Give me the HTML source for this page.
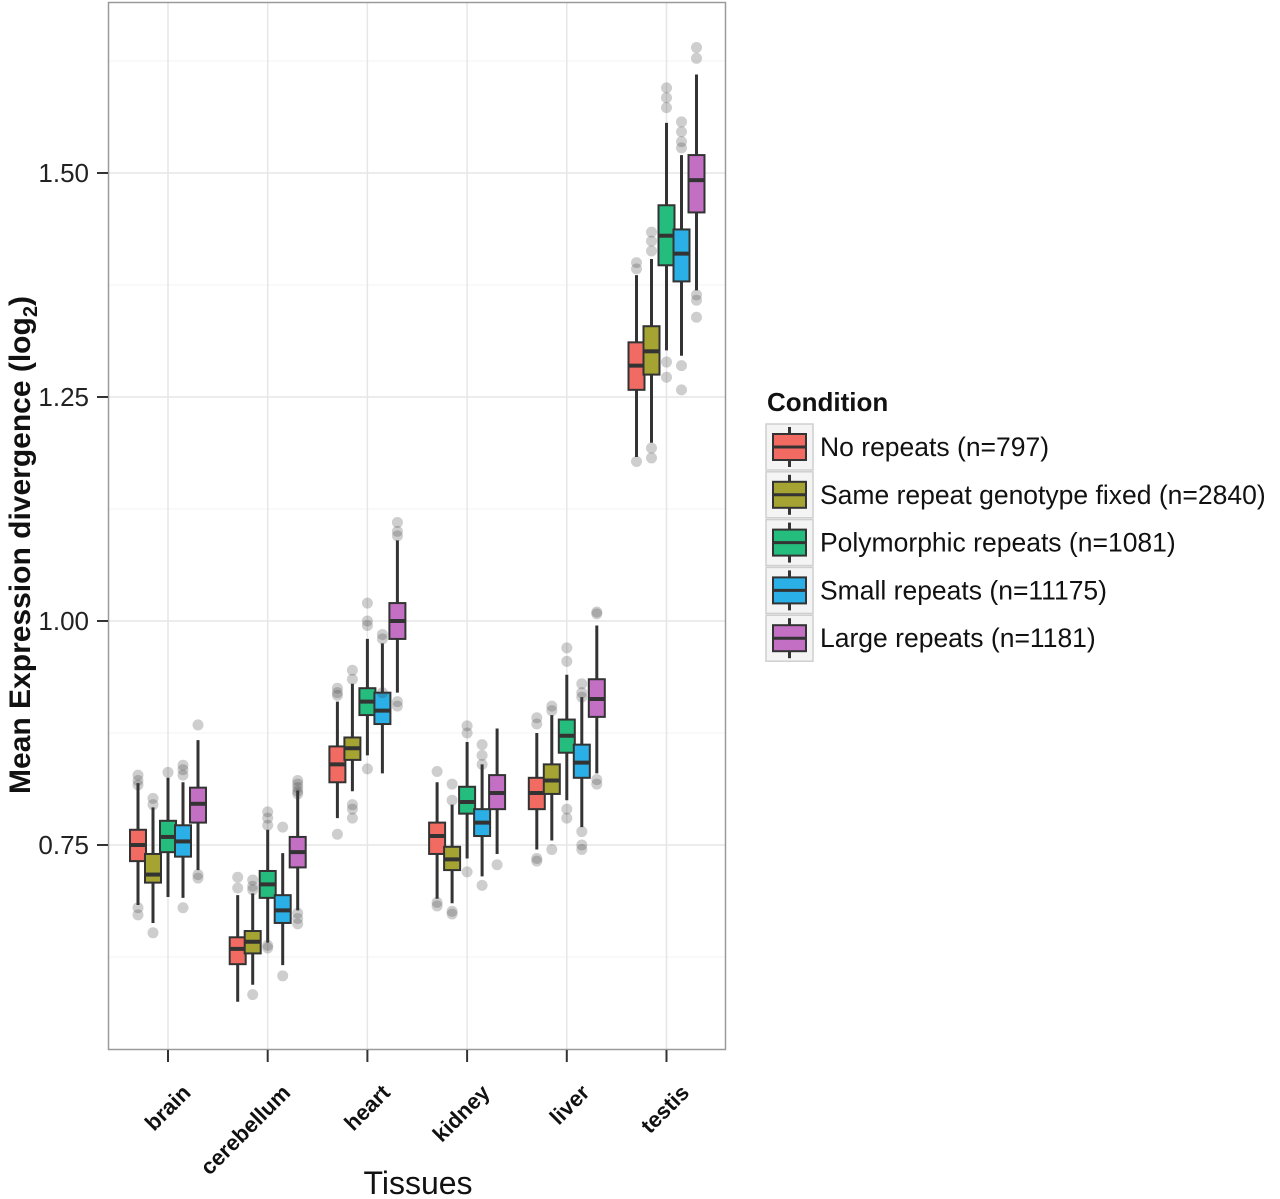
<!DOCTYPE html>
<html><head><meta charset="utf-8"><style>
html,body{margin:0;padding:0;background:#fff;}
svg{display:block;font-family:"Liberation Sans",Arial,sans-serif;}
</style></head><body>
<svg id="chart" width="1280" height="1199" viewBox="0 0 1280 1199">
<rect x="0" y="0" width="1280" height="1199" fill="#fff"/>
<g id="grid"></g>
<g id="marks"></g>
<rect x="108.5" y="2.5" width="617" height="1047" fill="none" stroke="#9a9a9a" stroke-width="1.5"/>
<g id="axes"></g>
<text x="30" y="545" transform="rotate(-90 30 545)" text-anchor="middle" font-size="30" font-weight="bold" fill="#111">Mean Expression divergence (log<tspan font-size="20" dy="7">2</tspan><tspan dy="-7">)</tspan></text>
<text x="418" y="1194" text-anchor="middle" font-size="32" fill="#111">Tissues</text>
<g id="legend"></g>
</svg>
<script>
const categories=["brain","cerebellum","heart","kidney","liver","testis"];
const seriesNames=["No repeats (n=797)","Same repeat genotype fixed (n=2840)","Polymorphic repeats (n=1081)","Small repeats (n=11175)","Large repeats (n=1181)"];
const yTicks=[0.75,1.00,1.25,1.50];
const yTickLabels=["0.75","1.00","1.25","1.50"];
const yMinor=[0.625,0.875,1.125,1.375,1.625];
// each entry: [whiskerLow, q1, median, q3, whiskerHigh]
const stats=[
 [[0.683,0.732,0.75,0.767,0.819],[0.663,0.708,0.717,0.740,0.792],[0.692,0.742,0.759,0.777,0.825],[0.691,0.737,0.754,0.772,0.820],[0.722,0.775,0.796,0.814,0.867]],
 [[0.575,0.617,0.634,0.647,0.694],[0.594,0.629,0.642,0.654,0.696],[0.641,0.691,0.706,0.721,0.767],[0.616,0.663,0.677,0.694,0.741],[0.677,0.725,0.742,0.759,0.811]],
 [[0.78,0.82,0.84,0.86,0.91],[0.81,0.845,0.858,0.87,0.93],[0.85,0.895,0.91,0.925,0.98],[0.83,0.885,0.90,0.92,0.975],[0.92,0.98,1.0,1.02,1.09]],
 [[0.69,0.74,0.76,0.775,0.82],[0.685,0.722,0.734,0.748,0.795],[0.735,0.785,0.798,0.815,0.865],[0.715,0.76,0.775,0.79,0.84],[0.74,0.79,0.808,0.828,0.88]],
 [[0.745,0.79,0.808,0.825,0.875],[0.755,0.807,0.822,0.84,0.895],[0.80,0.853,0.872,0.89,0.94],[0.77,0.825,0.842,0.862,0.915],[0.83,0.893,0.913,0.935,0.995]],
 [[1.183,1.258,1.285,1.311,1.386],[1.199,1.275,1.301,1.329,1.404],[1.302,1.397,1.43,1.464,1.556],[1.296,1.379,1.41,1.437,1.52],[1.369,1.456,1.492,1.52,1.61]]
];
const outliers=[
 [[0.828,0.822,0.817,0.680,0.672],[0.802,0.795,0.652],[0.831],[0.839,0.834,0.828,0.68],[0.884,0.717,0.713]],
 [[0.714,0.702],[0.711,0.704,0.70,0.583],[0.787,0.78,0.772,0.638,0.635],[0.77,0.604],[0.822,0.818,0.814,0.81,0.807,0.674,0.668,0.662]],
 [[0.925,0.92,0.917,0.762],[0.945,0.935,0.795,0.79,0.78],[1.02,1.0,0.995,0.835],[0.985,0.98,0.92],[1.11,1.10,1.095,0.91,0.905]],
 [[0.832,0.686,0.682],[0.818,0.80,0.676,0.673],[0.883,0.875,0.72],[0.862,0.85,0.84,0.705],[0.728]],
 [[0.892,0.885,0.735,0.732],[0.905,0.90,0.745],[0.97,0.955,0.79,0.78],[0.93,0.92,0.915,0.765,0.75,0.745],[1.01,1.008,0.823,0.818]],
 [[1.40,1.393,1.178],[1.434,1.424,1.413,1.193,1.182],[1.595,1.584,1.573,1.289,1.272],[1.557,1.546,1.535,1.528,1.285,1.258],[1.64,1.628,1.364,1.358,1.339]]
];
const colors=["#f26b63","#a5a331","#25bd7e","#2ab0e6","#c370c4"];
const NS="http://www.w3.org/2000/svg";
function yS(v){return 845-(v-0.75)*896;}
function xS(i){return 168+i*99.7;}
function off(j){return (j-2)*15;}
function mk(tag,at,parent){const e=document.createElementNS(NS,tag);for(const k in at)e.setAttribute(k,at[k]);parent.appendChild(e);return e;}
const grid=document.getElementById('grid'),marks=document.getElementById('marks'),axes=document.getElementById('axes'),legend=document.getElementById('legend');
yMinor.forEach(v=>{const l=mk('line',{x1:109,x2:725,y1:yS(v),y2:yS(v),stroke:'#f3f3f3','stroke-width':1},grid);

});
yTicks.forEach((v,i)=>{const l=mk('line',{x1:109,x2:725,y1:yS(v),y2:yS(v),stroke:'#e6e6e6','stroke-width':1.5},grid);


const t=mk('line',{x1:97,x2:108,y1:yS(v),y2:yS(v),stroke:'#333','stroke-width':2},axes);


const tx=mk('text',{x:89,y:yS(v)+9,'text-anchor':'end','font-size':26,fill:'#222'},axes);tx.textContent=yTickLabels[i];

});
categories.forEach((c,i)=>{const x=xS(i);
const g=mk('line',{x1:x,x2:x,y1:3,y2:1049,stroke:'#e6e6e6','stroke-width':1.5},grid);


const t=mk('line',{x1:x,x2:x,y1:1050,y2:1062,stroke:'#333','stroke-width':2},axes);


const tx=mk('text',{x:x+24,y:1094,'text-anchor':'end','font-size':22,'font-weight':'bold',fill:'#111',transform:`rotate(-45 ${x+24} 1094)`},axes);tx.textContent=c;


stats[i].forEach((s,j)=>{const cx=x+off(j);const grp=mk('g',{},marks);


mk('line',{x1:cx,x2:cx,y1:yS(s[0]),y2:yS(s[4]),stroke:'#333','stroke-width':3},grp);
mk('rect',{x:cx-8,y:yS(s[3]),width:16,height:yS(s[1])-yS(s[3]),fill:colors[j],stroke:'#333','stroke-width':2},grp);
mk('line',{x1:cx-8,x2:cx+8,y1:yS(s[2]),y2:yS(s[2]),stroke:'#333','stroke-width':4},grp);
outliers[i][j].forEach(o=>{const p=mk('circle',{cx:cx,cy:yS(o),r:5.5,fill:'rgba(60,60,60,0.25)'},grp);

});
});});
const lt=mk('text',{x:767,y:411,'font-size':26,'font-weight':'bold',fill:'#111'},legend);lt.textContent='Condition';


seriesNames.forEach((n,j)=>{const cy=447+j*47.8;const g=mk('g',{},legend);


mk('rect',{x:766,y:cy-23,width:47,height:46,fill:'#f4f4f4',stroke:'#cfcfcf','stroke-width':1.5},g);
mk('line',{x1:789.5,x2:789.5,y1:cy-20,y2:cy+20,stroke:'#333','stroke-width':3},g);
mk('rect',{x:773,y:cy-13,width:33,height:26,fill:colors[j],stroke:'#333','stroke-width':2},g);
mk('line',{x1:773,x2:806,y1:cy,y2:cy,stroke:'#333','stroke-width':3},g);
const t=mk('text',{x:820,y:cy+9,'font-size':26.5,fill:'#111'},g);t.textContent=n;});
</script>
</body></html>
